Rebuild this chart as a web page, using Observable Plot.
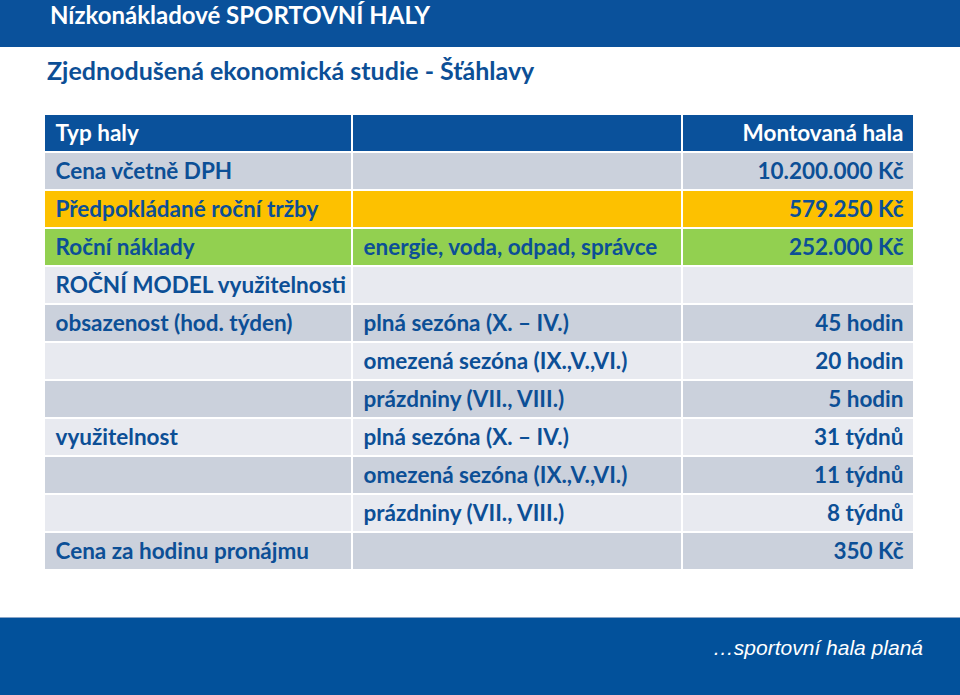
<!DOCTYPE html>
<html>
<head>
<meta charset="utf-8">
<script src="https://cdn.jsdelivr.net/npm/d3@7"></script>
<script src="https://cdn.jsdelivr.net/npm/@observablehq/plot@0.6"></script>
<style>
  html, body { margin: 0; padding: 0; background: #fff; width: 960px; height: 695px; overflow: hidden; }
  #top { height: 47px; background: #0a519b; color: #fff; font-family: Lato, sans-serif; font-weight: 700; font-size: 24px; line-height: 30px; padding-left: 50px; box-sizing: border-box; white-space: nowrap; }
  #sub { height: 66px; color: #0c4f96; font-family: Lato, sans-serif; font-weight: 700; font-size: 25px; padding-left: 47px; padding-top: 8px; box-sizing: border-box; line-height: 30px; white-space: nowrap; }
  #chart { height: 504px; }
  #foot { height: 78px; background: #02519b; border-top: 1px solid #8aa6c8; box-sizing: border-box; color: #fff; font-family: "Liberation Sans", Arial, sans-serif; font-style: italic; font-size: 21px; text-align: right; padding-right: 37px; padding-top: 18px; line-height: 24px; }
</style>
</head>
<body>
<div id="top"></div>
<div id="sub"></div>
<div id="chart"></div>
<div id="foot"></div>
<script>
// ---- data ----
const titleText = "Nízkonákladové SPORTOVNÍ HALY";
const subtitleText = "Zjednodušená ekonomická studie - Šťáhlavy";
const footerText = "…sportovní hala planá";

const rowLabels = ["Typ haly", "Cena včetně DPH", "Předpokládané roční tržby", "Roční náklady",
  "ROČNÍ MODEL využitelnosti", "obsazenost (hod. týden)", "", "", "využitelnost", "", "", "Cena za hodinu pronájmu"];
const rowDetails = ["", "", "", "energie, voda, odpad, správce", "",
  "plná sezóna (X. – IV.)", "omezená sezóna (IX.,V.,VI.)", "prázdniny (VII., VIII.)",
  "plná sezóna (X. – IV.)", "omezená sezóna (IX.,V.,VI.)", "prázdniny (VII., VIII.)", ""];
const rowValues = ["Montovaná hala", "10.200.000 Kč", "579.250 Kč", "252.000 Kč", "",
  "45 hodin", "20 hodin", "5 hodin", "31 týdnů", "11 týdnů", "8 týdnů", "350 Kč"];
const rowKinds = ["header", "dark", "revenue", "cost", "light", "dark", "light", "dark", "light", "dark", "light", "dark"];

// ---- layout / style ----
const colEdges = [45, 353, 683, 915];
const pad = 10;
const kindFill = { header: "#0a519b", dark: "#cbd1dc", light: "#e8eaf0", revenue: "#fdc100", cost: "#92d050" };
const textBlue = "#0c4f96";

document.getElementById("top").textContent = titleText;
document.getElementById("sub").textContent = subtitleText;
document.getElementById("foot").textContent = footerText;

const rows = rowLabels.map((label, i) => ({
  row: i, label, detail: rowDetails[i], value: rowValues[i], kind: rowKinds[i],
  fill: kindFill[rowKinds[i]], ink: rowKinds[i] === "header" ? "#ffffff" : textBlue
}));
const cells = rows.flatMap(r => [0, 1, 2].map(c => ({
  row: r.row, x1: colEdges[c], x2: colEdges[c + 1] - 2, fill: r.fill
})));

const textOpts = { y: "row", fill: "ink", fontSize: 22.5, fontWeight: 700, fontFamily: "Lato", dy: 0 };

const chart = Plot.plot({
  width: 960, height: 504,
  marginTop: 0, marginLeft: 0, marginRight: 0, marginBottom: 45,
  x: { domain: [0, 960], range: [0, 960], axis: null },
  y: { domain: d3.range(rowLabels.length), axis: null, paddingInner: 0.05, paddingOuter: 0 },
  style: { background: "transparent", fontFamily: "Lato" },
  marks: [
    Plot.barX(cells, { x1: "x1", x2: "x2", y: "row", fill: "fill" }),
    Plot.text(rows, { ...textOpts, x: () => colEdges[0] + pad, text: "label", textAnchor: "start" }),
    Plot.text(rows, { ...textOpts, x: () => colEdges[1] + pad, text: "detail", textAnchor: "start" }),
    Plot.text(rows, { ...textOpts, x: () => colEdges[3] - 2 - pad, text: "value", textAnchor: "end" })
  ]
});
document.getElementById("chart").appendChild(chart);
</script>
</body>
</html>
